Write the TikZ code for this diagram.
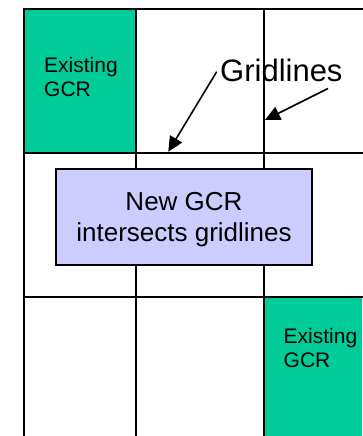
\documentclass[tikz,border=0pt]{standalone}
\usepackage{fontspec}
\setmainfont{Liberation Sans}
\usetikzlibrary{arrows.meta}
\definecolor{gcrgreen}{HTML}{00CC99}
\definecolor{newgcr}{HTML}{CCCCFF}
\tikzset{
  gridline/.style={line width=2pt, line cap=rect},
  existing/.style={anchor=north west, inner sep=0pt, align=left,
    font=\fontsize{21}{24}\selectfont},
  newbox/.style={draw=black, line width=2pt, fill=newgcr, minimum width=256pt,
    minimum height=96pt, inner sep=0pt, align=center, text depth=0pt,
    font=\fontsize{26}{31}\selectfont},
  pointer/.style={line width=1.6pt, -{Triangle[length=15pt,width=14pt]}},
}
\begin{document}
\begin{tikzpicture}[x=1pt, y=-1pt]
\useasboundingbox (0,0) rectangle (362,436);
\fill[white] (0,0) rectangle (362,436);
% green cells
\fill[gcrgreen] (24,9) rectangle (136,153);
\fill[gcrgreen] (264,297) rectangle (362,436);
% grid
\draw[gridline] (24,9) -- (362,9);
\draw[gridline] (24,153) -- (362,153);
\draw[gridline] (24,297) -- (362,297);
\draw[gridline] (24,9) -- (24,437);
\draw[gridline] (136,9) -- (136,437);
\draw[gridline] (264,9) -- (264,437);
% texts
\node[existing] (ex1) at (44,57.5) {Existing\\GCR};
\node[existing] (ex2) at (283.5,328.2) {Existing\\GCR};
\node[newbox] (new) at (184,217) {New GCR\\intersects gridlines};
\node[anchor=base west, inner sep=0pt, font=\fontsize{31}{36}\selectfont] (gl) at (220,81.7) {Gridlines};
% arrows
\coordinate (a1s) at (216.7,71.7);
\coordinate (a1e) at (168.3,151.7);
\coordinate (a2s) at (328,88.5);
\coordinate (a2e) at (265,120);
\draw[pointer] (a1s) -- (a1e);
\draw[pointer] (a2s) -- (a2e);
\end{tikzpicture}
\end{document}
